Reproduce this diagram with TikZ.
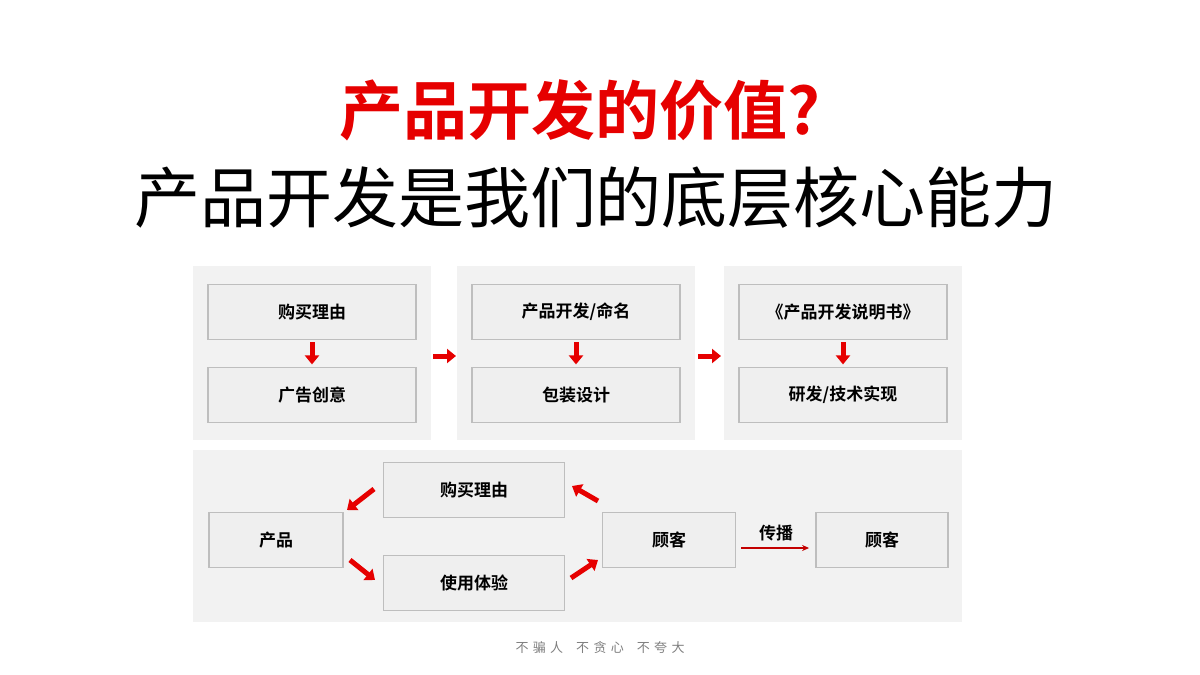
\documentclass[tikz,border=0pt]{standalone}
\usepackage{fontspec}
\setmainfont{Noto Sans CJK SC}[BoldFont={* Bold}]
\usetikzlibrary{arrows.meta,calc}
\definecolor{tred}{RGB}{230,0,0}
\definecolor{panel}{RGB}{242,242,242}
\definecolor{bx}{RGB}{239,239,239}
\definecolor{bd}{RGB}{190,190,190}
\begin{document}
\begin{tikzpicture}[x=1pt,y=-1pt,
 panelbox/.style={fill=panel,draw=none},
 box/.style={fill=bx,draw=bd,line width=1.8pt,font=\bfseries\fontsize{17}{17}\selectfont},
 blk/.style={draw=tred,line width=5pt,-{Triangle[width=14pt,length=9pt]}},
 thin/.style={draw=tred!85!black,line width=1.5pt,-{Stealth[length=7pt,width=6pt]}}]
\useasboundingbox (0,0) rectangle (1200,675);
\fill[white] (0,0) rectangle (1200,675);
\node[text=tred,font=\bfseries\fontsize{64}{64}\selectfont] (t1) at (580,110) {产品开发的价值?};
\node[font=\fontsize{66}{66}\selectfont] (t2) at (596,198) {产品开发是我们的底层核心能力};
\fill[panelbox] (193,266) rectangle (431,440);
\fill[panelbox] (457,266) rectangle (695,440);
\fill[panelbox] (724,266) rectangle (962,440);
\fill[panelbox] (193,450) rectangle (962,622);
% top boxes
\node[box,minimum width=208pt,minimum height=55pt] (a1) at (312,312) {购买理由};
\node[box,minimum width=208pt,minimum height=55pt] (a2) at (312,395) {广告创意};
\node[box,minimum width=208pt,minimum height=55pt] (b1) at (576,312) {产品开发/命名};
\node[box,minimum width=208pt,minimum height=55pt] (b2) at (576,395) {包装设计};
\node[box,minimum width=208pt,minimum height=55pt] (c1) at (843,312) {《产品开发说明书》};
\node[box,minimum width=208pt,minimum height=55pt] (c2) at (843,395) {研发/技术实现};
\draw[blk] ($(a1.south)+(0,2)$) -- ($(a1.south)+(0,24)$);
\draw[blk] ($(b1.south)+(0,2)$) -- ($(b1.south)+(0,24)$);
\draw[blk] ($(c1.south)+(0,2)$) -- ($(c1.south)+(0,24)$);
\coordinate (p1) at (433,356); \coordinate (p2) at (456,356);
\coordinate (p3) at (698,356); \coordinate (p4) at (721,356);
\draw[blk] (p1) -- (p2);
\draw[blk] (p3) -- (p4);
% bottom
\node[box,minimum width=134pt,minimum height=55pt] (cp) at (276,540) {产品};
\node[box,minimum width=181pt,minimum height=55pt] (gm) at (474,490) {购买理由};
\node[box,minimum width=181pt,minimum height=55pt] (sy) at (474,583) {使用体验};
\node[box,minimum width=133pt,minimum height=55pt] (gk) at (669,540) {顾客};
\node[box,minimum width=132pt,minimum height=55pt] (gk2) at (882,540) {顾客};
\coordinate (d1s) at (374,489); \coordinate (d1e) at (347,510);
\coordinate (d2s) at (350,560); \coordinate (d2e) at (375,580);
\coordinate (d3s) at (571,578); \coordinate (d3e) at (598,560);
\coordinate (d4s) at (598,501); \coordinate (d4e) at (572,486);
\draw[blk] (d1s) -- (d1e);
\draw[blk] (d2s) -- (d2e);
\draw[blk] (d3s) -- (d3e);
\draw[blk] (d4s) -- (d4e);
\draw[thin] ($(gk.east)+(5,8)$) -- ($(gk2.west)+(-6,8)$);
\node[font=\bfseries\fontsize{17}{17}\selectfont] (cb) at (776,533) {传播};
\node[text=gray,font=\fontsize{13}{13}\selectfont] (ft) at (600,648) {不\,\,骗\,\,人\quad 不\,\,贪\,\,心\quad 不\,\,夸\,\,大};
\end{tikzpicture}
\end{document}
